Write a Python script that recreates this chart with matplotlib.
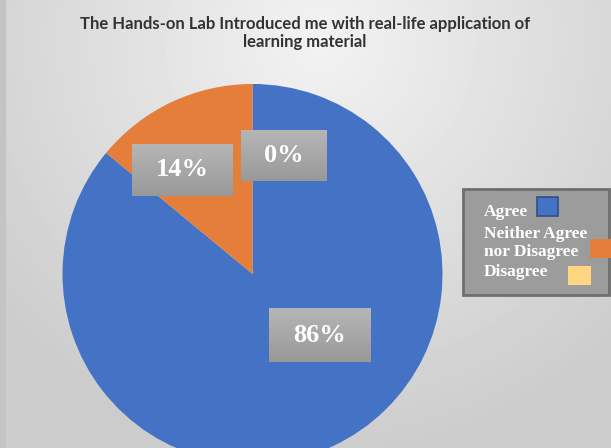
import numpy as np
import matplotlib
matplotlib.use('Agg')
import matplotlib.pyplot as plt
from matplotlib.patches import Rectangle

# data
categories = ['Agree', 'Neither Agree\nnor Disagree', 'Disagree']
values = [86, 14, 0]
labels = ['86%', '14%', '0%']
colors = ['#4472C4', '#E67E3B', '#FFD580']
title = 'The Hands-on Lab Introduced me with real-life application of\nlearning material'

# label box centres and sizes in pixels, placed by hand like the original
label_pos = [(320, 335), (182.5, 170), (284, 155.5)]
label_size = [(102, 54), (101, 52), (86, 51)]

W, H = 611, 448
fig = plt.figure(figsize=(W / 100, H / 100), dpi=100)

# background with soft radial shading
bg = fig.add_axes([0, 0, 1, 1], zorder=-10)
yy, xx = np.mgrid[0:H, 0:W]
d = np.sqrt(((xx - 320) / 420.0) ** 2 + ((yy - 40) / 420.0) ** 2)
shade = 0.95 - 0.15 * np.clip(d, 0, 1)
bg.imshow(shade, cmap='gray', vmin=0, vmax=1, extent=[0, W, H, 0], aspect='auto')
bg.add_patch(Rectangle((0, 0), 6, H, color='#c4c4c4', lw=0))
bg.set_xlim(0, W)
bg.set_ylim(H, 0)
bg.axis('off')

# pie axes: centre at (252.5, 274) px, radius 190 px
cx, cy, r = 252.5, 274, 190
ax = fig.add_axes([(cx - r) / W, (H - cy - r) / H, 2 * r / W, 2 * r / H])
ax.pie(values, colors=colors, startangle=90, counterclock=False, radius=1,
       wedgeprops=dict(linewidth=0))
ax.set_xlim(-1, 1)
ax.set_ylim(-1, 1)
ax.set_aspect('auto')
ax.axis('off')

# overlay in pixel coords for labels and legend
ov = fig.add_axes([0, 0, 1, 1], zorder=5)
ov.set_xlim(0, W)
ov.set_ylim(H, 0)
ov.axis('off')

grad = np.linspace(0.71, 0.60, 50).reshape(-1, 1)
for (x, y), (bw, bh), lab in zip(label_pos, label_size, labels):
    ov.imshow(grad, cmap='gray', vmin=0, vmax=1, aspect='auto',
              extent=[x - bw / 2, x + bw / 2, y + bh / 2, y - bh / 2], zorder=3)
    ov.text(x, y, lab, ha='center', va='center', color='white', fontsize=19,
            fontweight='bold', family='Liberation Serif', zorder=4)
ov.set_xlim(0, W)
ov.set_ylim(H, 0)

# title
fig.text(305 / W, 1 - 33 / H, title, ha='center', va='center', fontsize=12,
         fontweight='bold', family='Lato', color='#333333', linespacing=1.2)

# legend drawn by hand
ov.add_patch(Rectangle((463, 189), 146, 106, facecolor='#9c9c9c',
                       edgecolor='#6e6e6e', lw=2, zorder=2))
font = dict(color='white', fontsize=12.5, fontweight='bold',
            family='Liberation Serif', va='center', ha='left', zorder=4)
ov.text(484, 212, 'Agree', **font)
ov.text(484, 243, categories[1], linespacing=1.15, **font)
ov.text(484, 272, 'Disagree', **font)
ov.add_patch(Rectangle((537, 197), 21, 19, facecolor=colors[0],
                       edgecolor='#2f4f8a', lw=1.2, zorder=4))
ov.add_patch(Rectangle((590, 239), 21, 19, facecolor=colors[1], lw=0, zorder=4))
ov.add_patch(Rectangle((568, 266), 23, 19, facecolor=colors[2], lw=0, zorder=4))

fig.savefig('out.png', dpi=100)
